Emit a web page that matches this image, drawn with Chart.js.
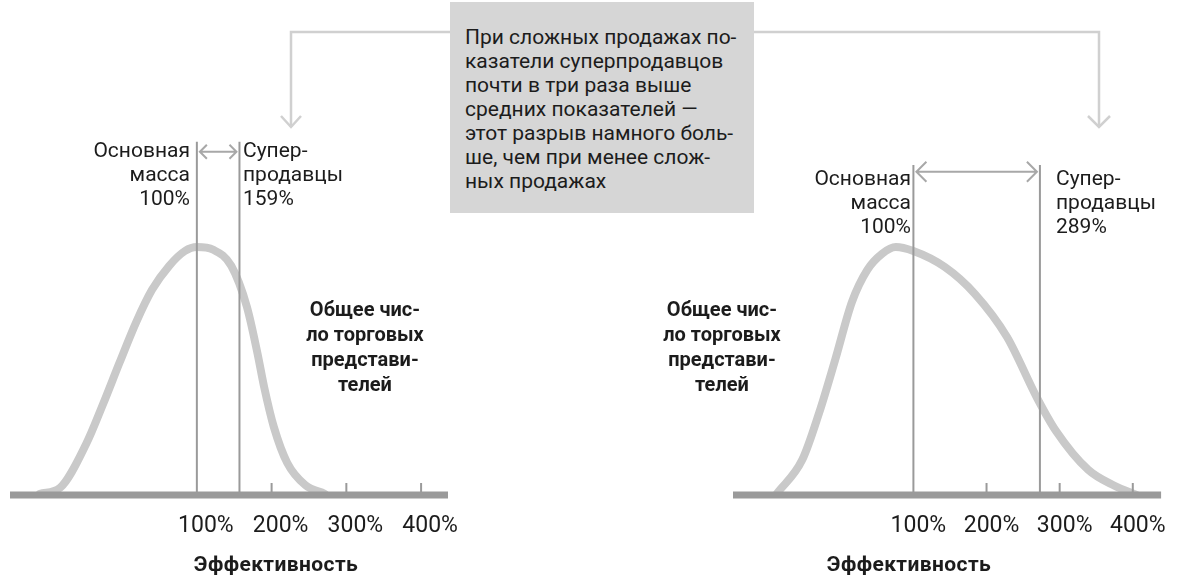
<!DOCTYPE html>
<html>
<head>
<meta charset="utf-8">
<script src="https://cdn.jsdelivr.net/npm/chart.js@4.4.1/dist/chart.umd.min.js"></script>
<style>
  html, body { margin: 0; padding: 0; background: #fff; }
  body { width: 1178px; height: 577px; position: relative; overflow: hidden; font-family: Roboto, "Liberation Sans", sans-serif; color: #1c1c1c; }
  .box { position: absolute; left: 450px; top: 2px; width: 289px; height: 188px; background: #d6d6d6; padding: 23px 0 0 15px; font-size: 21px; line-height: 24px; }
  .lbl { position: absolute; font-size: 21px; line-height: 24px; white-space: pre; }
  .bold { position: absolute; font-weight: bold; font-size: 20px; line-height: 25px; text-align: center; white-space: pre; }
  .title { font-size: 21px; letter-spacing: 0.4px; }
  .chart { position: absolute; top: 0; height: 577px; }
  svg { position: absolute; left: 0; top: 0; }
</style>
</head>
<body>
<svg width="1178" height="577">
  <g fill="none" stroke="#d0d0d0" stroke-width="2.5">
    <polyline points="450,32 291,32 291,127"/>
    <polyline points="281,116 291,127 301,116"/>
    <polyline points="754,32 1099,32 1099,127"/>
    <polyline points="1088,116 1099,127 1110,116"/>
  </g>
</svg>
<div class="chart" style="left:0;width:470px"><canvas id="left"></canvas></div>
<div class="chart" style="left:700px;width:478px"><canvas id="right"></canvas></div>

<div class="box">При сложных продажах по-<br>казатели суперпродавцов<br>почти в три раза выше<br>средних показателей —<br>этот разрыв намного боль-<br>ше, чем при менее слож-<br>ных продажах</div>

<div class="lbl" style="left:60px;width:130px;top:138px;text-align:right">Основная
масса
100%</div>
<div class="lbl" style="left:243px;top:138px">Супер-
продавцы
159%</div>
<div class="lbl" style="left:781px;width:130px;top:166px;text-align:right">Основная
масса
100%</div>
<div class="lbl" style="left:1056px;top:166px">Супер-
продавцы
289%</div>

<div class="bold" style="left:285px;width:160px;top:297px">Общее чис-
ло торговых
представи-
телей</div>
<div class="bold" style="left:642px;width:160px;top:297px">Общее чис-
ло торговых
представи-
телей</div>

<div class="bold title" style="left:176px;width:200px;top:552px">Эффективность</div>
<div class="bold title" style="left:809px;width:200px;top:552px">Эффективность</div>

<script>
// tick labels on the performance axis
var tickValues = [100, 200, 300, 400];

// left panel: less complex sales
var leftCurveX = [-110, -83, -48, -26, -3, 19, 40, 63, 84, 100, 122, 146, 167, 181, 190, 203, 221, 245, 271];
var leftCurveY = [0.3, 1.8, 12.8, 22.5, 33.3, 43.3, 51.3, 57.3, 61, 62, 61.3, 57.3, 47, 35.5, 27, 17, 8, 2.5, 0.3];
var leftMarkers = [100, 157];

// right panel: complex sales
var rightCurveX = [-87, -52, -29, -7, 16, 37, 57, 76, 100, 143, 184, 228, 269, 295, 339, 375, 405];
var rightCurveY = [0.3, 8.8, 20.5, 33.8, 48.3, 56.3, 60.3, 62, 61, 57, 50.3, 39.5, 24.3, 16, 6.3, 2.3, 0];
var rightMarkers = [100, 273];

function toPoints(xs, ys) {
  return xs.map(function (x, i) { return { x: x, y: ys[i] }; });
}

// baseline, small upward ticks and the double arrow between the two markers
var axisDecor = {
  id: 'axisDecor',
  afterDatasetsDraw: function (chart, args, opts) {
    var ctx = chart.ctx, xs = chart.scales.x, ys = chart.scales.y;
    var area = chart.chartArea;
    ctx.save();
    ctx.strokeStyle = '#9a9a9a';
    ctx.lineWidth = 2;
    tickValues.forEach(function (v) {
      if (v === 100) return;
      var px = xs.getPixelForValue(v);
      ctx.beginPath();
      ctx.moveTo(px, area.bottom - 12);
      ctx.lineTo(px, area.bottom);
      ctx.stroke();
    });
    ctx.lineWidth = 7;
    ctx.beginPath();
    ctx.moveTo(area.left, area.bottom);
    ctx.lineTo(area.right, area.bottom);
    ctx.stroke();

    var a = xs.getPixelForValue(opts.markers[0]) + 3;
    var b = xs.getPixelForValue(opts.markers[1]) - 3;
    var y = ys.getPixelForValue(opts.arrowY);
    var h = opts.head;
    ctx.strokeStyle = '#a8a8a8';
    ctx.lineWidth = 2;
    ctx.beginPath();
    ctx.moveTo(a, y); ctx.lineTo(b, y);
    ctx.moveTo(a + h, y - h); ctx.lineTo(a, y); ctx.lineTo(a + h, y + h);
    ctx.moveTo(b - h, y - h); ctx.lineTo(b, y); ctx.lineTo(b - h, y + h);
    ctx.stroke();
    ctx.restore();
  }
};

function makeChart(id, curveX, curveY, markers, markerTop, arrowY, head, xMin, xMax, pad, labelOffset) {
  var datasets = markers.map(function (m) {
    return {
      data: [{ x: m, y: 0 }, { x: m, y: markerTop }],
      borderColor: '#9a9a9a', borderWidth: 2, pointRadius: 0, order: 0
    };
  });
  datasets.push({
    data: toPoints(curveX, curveY),
    borderColor: '#c9c9c9', borderWidth: 8, pointRadius: 0,
    cubicInterpolationMode: 'monotone', borderCapStyle: 'round', order: 1
  });
  return new Chart(document.getElementById(id), {
    type: 'line',
    data: { datasets: datasets },
    plugins: [axisDecor],
    options: {
      responsive: true,
      maintainAspectRatio: false,
      animation: false,
      layout: { padding: pad },
      plugins: { legend: { display: false }, tooltip: { enabled: false }, axisDecor: { markers: markers, arrowY: arrowY, head: head } },
      scales: {
        x: {
          type: 'linear', min: xMin, max: xMax,
          afterBuildTicks: function (s) { s.ticks = tickValues.map(function (v) { return { value: v }; }); },
          afterFit: function (s) { s.height = 82; },
          grid: { display: false, drawTicks: false },
          border: { display: false },
          ticks: {
            padding: 17, labelOffset: labelOffset, maxRotation: 0, autoSkip: false,
            color: '#1c1c1c', font: { family: 'Roboto', size: 23 },
            callback: function (v) { return v + '%'; }
          }
        },
        y: { display: false, min: 0, max: 100 }
      }
    }
  });
}

makeChart('left', leftCurveX, leftCurveY, leftMarkers, 88.3, 85.8, 7, -150, 436, { left: 10, right: 22, top: 95, bottom: 0 }, 9);
makeChart('right', rightCurveX, rightCurveY, rightMarkers, 82.5, 80.8, 10, -146.7, 438.7, { left: 33, right: 6, top: 95, bottom: 0 }, 5);
</script>
</body>
</html>
